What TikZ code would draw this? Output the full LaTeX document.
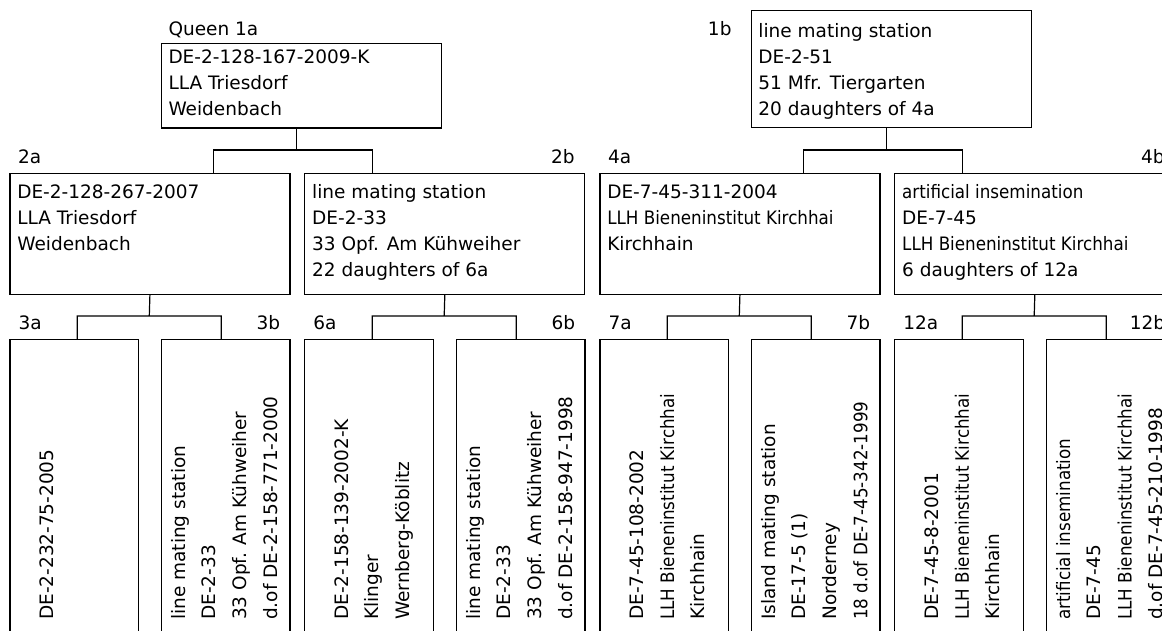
\documentclass[tikz,border=0pt]{standalone}
\usepackage{fontspec}
\setmainfont{DejaVu Sans}
\newfontfamily\narrowfont[FakeStretch=0.905]{DejaVu Sans}
\usetikzlibrary{positioning}
\definecolor{pedink}{HTML}{000000}

\begin{document}
\begin{tikzpicture}[
        x=1pt,y=1pt,
        box/.style={draw=pedink,rectangle,line width=1.2pt,inner sep=0pt,anchor=north west},
        widebox/.style={box,minimum width=280pt},
        leafbox/.style={box,minimum width=128.7pt,minimum height=321pt},
        txt/.style={anchor=base west,align=left,inner sep=0pt,text=pedink,
          font=\fontsize{18.5}{26}\selectfont},
        vtxt/.style={txt,rotate=90,font=\fontsize{18.5}{30.7}\selectfont},
        tag/.style={inner sep=0pt,text=pedink,font=\fontsize{18.5}{26}\selectfont},
        fork/.style={draw=pedink,line width=1.2pt}
      ]
        \useasboundingbox (0,0) rectangle (1162,-630);
        \clip (0,0) rectangle (1162,-630);

        % generation 1 (text nodes sit on the baseline of their last line)
        \node[widebox,minimum height=84.6pt] (box1a) at (160.7,-42.7) {};
        \node[txt] (txt1a) at (168.3,-115.5)
          {DE-2-128-167-2009-K\\LLA Triesdorf\\Weidenbach};
        \node[tag,anchor=base west] (tag1a) at (168.3,-35) {Queen 1a};

        \node[widebox,minimum height=116.7pt] (box1b) at (750.5,-10) {};
        \node[txt] (txt1b) at (758.2,-115)
          {line mating station\\DE-2-51\\51 Mfr. Tiergarten\\20 daughters of 4a};
        \node[tag,anchor=base east] (tag1b) at (731.7,-35) {1b};

        % generation 2
        \node[widebox,minimum height=121.3pt] (box2a) at (9.3,-172.7) {};
        \node[txt] (txt2a) at (17.1,-250)
          {DE-2-128-267-2007\\LLA Triesdorf\\Weidenbach};
        \node[tag,anchor=base west] (tag2a) at (17.8,-163.3) {2a};

        \node[widebox,minimum height=121.3pt] (box2b) at (304.2,-172.7) {};
        \node[txt] (txt2b) at (312,-276)
          {line mating station\\DE-2-33\\33 Opf. Am Kühweiher\\22 daughters of 6a};
        \node[tag,anchor=base east] (tag2b) at (574.8,-163.3) {2b};

        \node[widebox,minimum height=121.3pt] (box4a) at (599.3,-172.7) {};
        \node[txt] (txt4a) at (607.1,-250)
          {DE-7-45-311-2004\\{\narrowfont LLH Bieneninstitut Kirchhai}\\Kirchhain};
        \node[tag,anchor=base west] (tag4a) at (607.8,-163.3) {4a};

        \node[widebox,minimum height=121.3pt] (box4b) at (894.2,-172.7) {};
        \node[txt] (txt4b) at (902,-276)
          {{\narrowfont artificial insemination}\\DE-7-45\\
           {\narrowfont LLH Bieneninstitut Kirchhai}\\6 daughters of 12a};
        \node[tag,anchor=base east] (tag4b) at (1164.7,-163.3) {4b};

        % generation 3
        \node[leafbox] (box3a) at (9.3,-339) {};
        \node[vtxt] (txt3a) at (53.3,-620) {DE-2-232-75-2005};
        \node[tag,anchor=base west] (tag3a) at (18.3,-329.3) {3a};

        \node[leafbox] (box3b) at (160.7,-339) {};
        \node[vtxt] (txt3b) at (277.3,-620)
          {line mating station\\DE-2-33\\33 Opf. Am Kühweiher\\d.of DE-2-158-771-2000};
        \node[tag,anchor=base east] (tag3b) at (280.3,-329.3) {3b};

        \node[leafbox] (box6a) at (304.2,-339) {};
        \node[vtxt] (txt6a) at (409.6,-620)
          {DE-2-158-139-2002-K\\Klinger\\Wernberg-Köblitz};
        \node[tag,anchor=base west] (tag6a) at (313.2,-329.3) {6a};

        \node[leafbox] (box6b) at (455.6,-339) {};
        \node[vtxt] (txt6b) at (572.2,-620)
          {line mating station\\DE-2-33\\33 Opf. Am Kühweiher\\d.of DE-2-158-947-1998};
        \node[tag,anchor=base east] (tag6b) at (575.3,-329.3) {6b};

        \node[leafbox] (box7a) at (599.3,-339) {};
        \node[vtxt] (txt7a) at (704.7,-620)
          {DE-7-45-108-2002\\{\narrowfont LLH Bieneninstitut Kirchhai}\\Kirchhain};
        \node[tag,anchor=base west] (tag7a) at (608.3,-329.3) {7a};

        \node[leafbox] (box7b) at (750.7,-339) {};
        \node[vtxt] (txt7b) at (867.3,-620)
          {Island mating station\\DE-17-5 (1)\\Norderney\\{\narrowfont 18 d.of DE-7-45-342-1999}};
        \node[tag,anchor=base east] (tag7b) at (870.4,-329.3) {7b};

        \node[leafbox] (box12a) at (894.2,-339) {};
        \node[vtxt] (txt12a) at (999.6,-620)
          {DE-7-45-8-2001\\{\narrowfont LLH Bieneninstitut Kirchhai}\\Kirchhain};
        \node[tag,anchor=base west] (tag12a) at (903.2,-329.3) {12a};

        \node[leafbox] (box12b) at (1045.6,-339) {};
        \node[vtxt] (txt12b) at (1162.2,-620)
          {{\narrowfont artificial insemination}\\DE-7-45\\
           {\narrowfont LLH Bieneninstitut Kirchhai}\\d.of DE-7-45-210-1998};
        \node[tag,anchor=base east] (tag12b) at (1165.3,-329.3) {12b};

        % forks
        \coordinate (fork1a) at (296.7,-150);
        \coordinate (fork1b) at (886.7,-150);
        \coordinate (fork2a) at (149.3,-316);
        \coordinate (fork2b) at (444.2,-316);
        \coordinate (fork4a) at (739.3,-316);
        \coordinate (fork4b) at (1034.2,-316);

        \draw[fork] (box1a.south -| fork1a) -- (fork1a)
          ([xshift=-83.5pt]fork1a |- box2a.north) |- ([xshift=75.5pt]fork1a)
          -- ([xshift=75.5pt]fork1a |- box2b.north);
        \draw[fork] (box1b.south -| fork1b) -- (fork1b)
          ([xshift=-83.5pt]fork1b |- box4a.north) |- ([xshift=75.5pt]fork1b)
          -- ([xshift=75.5pt]fork1b |- box4b.north);

        \draw[fork] (box2a.south) -- (fork2a)
          ([xshift=-72pt]fork2a |- box3a.north) |- ([xshift=72pt]fork2a)
          -- ([xshift=72pt]fork2a |- box3b.north);
        \draw[fork] (box2b.south) -- (fork2b)
          ([xshift=-72pt]fork2b |- box6a.north) |- ([xshift=72pt]fork2b)
          -- ([xshift=72pt]fork2b |- box6b.north);
        \draw[fork] (box4a.south) -- (fork4a)
          ([xshift=-72pt]fork4a |- box7a.north) |- ([xshift=72pt]fork4a)
          -- ([xshift=72pt]fork4a |- box7b.north);
        \draw[fork] (box4b.south) -- (fork4b)
          ([xshift=-72pt]fork4b |- box12a.north) |- ([xshift=72pt]fork4b)
          -- ([xshift=72pt]fork4b |- box12b.north);
      \end{tikzpicture}
\end{document}
